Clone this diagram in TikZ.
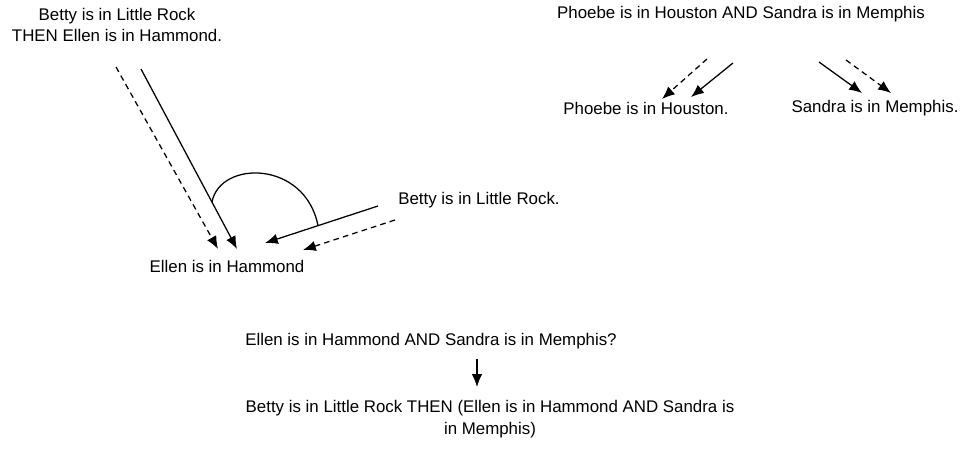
\documentclass[tikz,border=0pt]{standalone}
\usepackage{fontspec}
\setmainfont{Liberation Sans}
\usetikzlibrary{arrows.meta}
\tikzset{
  prop/.style={font=\fontsize{12}{15.5}\selectfont, inner sep=0pt, align=center},
  infer/.style={line width=0.9pt, -{Latex[length=3.2mm,width=2.6mm]}},
  assume/.style={infer, dash pattern=on 4pt off 3pt},
}

\begin{document}
\begin{tikzpicture}[x=0.025cm, y=-0.025cm]
			%%%%% START %%%%%
			\useasboundingbox (0,0) rectangle (975,449);
			
			% modus ponens
			\node[prop] (premise) at (117,25) {Betty is in Little Rock\\THEN Ellen is in Hammond.};
			\node[prop] (betty) at (479,200) {Betty is in Little Rock.};
			\node[prop] (ellen) at (227,266) {Ellen is in Hammond};
			
			\coordinate (p1) at (116,67);  \coordinate (e1) at (218,249);
			\coordinate (p2) at (141,69);  \coordinate (e2) at (237,249);
			\coordinate (b1) at (378,206); \coordinate (e3) at (265,243);
			\coordinate (b2) at (395,220); \coordinate (e4) at (303,250);
			
			\draw[assume] (p1) -- (e1);
			\draw[infer] (p2) -- (e2);
			\draw[infer] (b1) -- (e3);
			\draw[assume] (b2) -- (e4);
			\draw[line width=0.9pt] (212,202) .. controls (220,160) and (305,160) .. (318,225.6);
			
			% splitting the conjunction
			\node[prop] (conj) at (741,14) {Phoebe is in Houston AND Sandra is in Memphis};
			\node[prop] (phoebe) at (646,108) {Phoebe is in Houston.};
			\node[prop] (sandra) at (875,108) {Sandra is in Memphis.};
			
			\coordinate (c1) at (707,59); \coordinate (h1) at (662,99);
			\coordinate (c2) at (733,63); \coordinate (h2) at (691,97);
			\coordinate (c3) at (819,62); \coordinate (s1) at (862,93);
			\coordinate (c4) at (846,60); \coordinate (s2) at (891,93);
			
			\draw[assume] (c1) -- (h1);
			\draw[infer] (c2) -- (h2);
			\draw[infer] (c3) -- (s1);
			\draw[assume] (c4) -- (s2);
			
			% conditional
			\node[prop] (both) at (431,341) {Ellen is in Hammond AND Sandra is in Memphis?};
			\node[prop] (cond) at (490,419) {Betty is in Little Rock THEN (Ellen is in Hammond AND Sandra is\\in Memphis)};
			
			\coordinate (d1) at (477,359); \coordinate (d2) at (477,387);
			\draw[infer] (d1) -- (d2);
			
			%%%%% END %%%%%
\end{tikzpicture}
\end{document}
